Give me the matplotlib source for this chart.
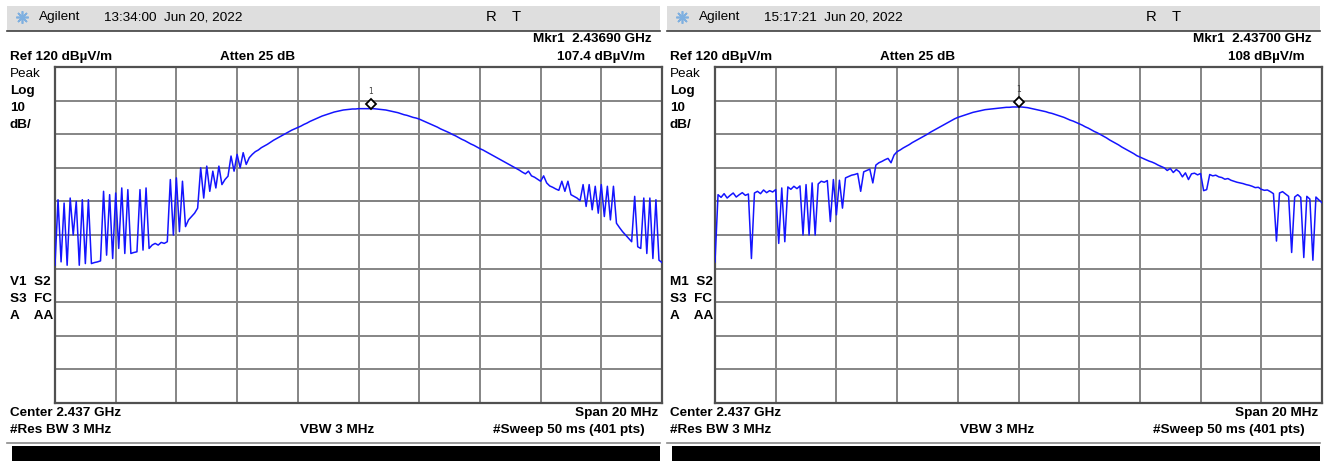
import numpy as np
import matplotlib
matplotlib.use("Agg")
import matplotlib.pyplot as plt
from matplotlib import font_manager
from matplotlib.patches import Rectangle
from matplotlib.transforms import offset_copy

W, H = 1325, 461

# sweep settings (both screenshots)
center_ghz = 2.437
span_mhz = 20
ref_level = 120
db_per_div = 10
n_pts = 201

# trace (dBuV/m), evenly spaced across the span
left_level = [
    61, 80.5, 62, 79.5, 61, 81, 70, 80, 61, 80.5,
    61.5, 80.5, 61.5, 61.8, 62, 62.3, 83, 64, 82, 63,
    82.5, 66, 84, 64.5, 83.5, 64.5, 64.8, 65, 83.5, 65.5,
    84, 66, 67, 67.5, 67, 67.8, 67.5, 68, 86.5, 70,
    87, 71, 86, 72.5, 74.5, 75.5, 76.5, 78, 90, 81,
    90.5, 83, 89, 84, 90.5, 85, 86.5, 87.5, 93.5, 89,
    94, 90, 94.5, 91, 93, 94, 94.8, 95.3, 96, 96.5,
    97, 97.6, 98.2, 98.7, 99.2, 99.7, 100.2, 100.7, 101.2, 101.6,
    102, 102.4, 102.9, 103.3, 103.8, 104.2, 104.6, 105, 105.4, 105.7,
    106, 106.3, 106.6, 106.8, 107, 107.2, 107.3, 107.4, 107.5, 107.5,
    107.6, 107.6, 107.6, 107.6, 107.6, 107.6, 107.5, 107.4, 107.3, 107.2,
    107.0, 106.8, 106.6, 106.4, 106.1, 105.8, 105.6, 105.3, 105.0, 104.8,
    104.5, 104.1, 103.7, 103.3, 102.9, 102.5, 102.1, 101.6, 101.2, 100.8,
    100.4, 99.9, 99.5, 99.0, 98.5, 98.1, 97.6, 97.1, 96.7, 96.2,
    95.7, 95.3, 94.8, 94.3, 93.8, 93.3, 92.8, 92.3, 91.8, 91.3,
    90.8, 90.3, 89.8, 89.3, 88.7, 88.2, 89, 87.6, 87.2, 86.6,
    86.0, 87.6, 85.5, 84.6, 84.2, 83.7, 83.3, 86, 83, 86,
    82, 81.5, 81, 80.2, 85, 78.5, 85, 77.5, 84.5, 76.5,
    85, 75.5, 84.5, 74.5, 84.5, 73.5, 72.2, 71, 70, 69,
    68, 81.5, 66.5, 66, 81, 64.5, 81, 63, 80.5, 62.5,
    61.8,
]

# trace
right_level = [
    62, 82, 81.2, 82.3, 81, 81.8, 82.5, 81.3, 82, 82.6,
    81.8, 82.2, 63, 82.5, 83, 82.3, 83.4, 82.6, 83.2, 82.8,
    83.5, 67.5, 84, 68, 84.3, 83.6, 84.5, 83.8, 84.6, 70,
    85, 70, 85.5, 70, 85.2, 86, 85.7, 86.2, 74, 86.5,
    76, 86.3, 78, 87, 87.4, 87.8, 88, 88.3, 83, 88.8,
    89.2, 89.6, 85.5, 90.8, 91.5, 91.9, 92.4, 92.8, 91.5, 93.8,
    94.8, 95.3, 95.9, 96.4, 96.9, 97.5, 98, 98.5, 99, 99.5,
    100, 100.6, 101.1, 101.6, 102.1, 102.6, 103.1, 103.6, 104.1, 104.6,
    105, 105.3, 105.6, 105.9, 106.2, 106.5, 106.7, 106.9, 107.1, 107.3,
    107.4, 107.5, 107.6, 107.7, 107.8, 107.9, 108, 108, 108.1, 108.1,
    108.1, 108.1, 108, 107.9, 107.7, 107.5, 107.3, 107.1, 106.9, 106.7,
    106.4, 106.2, 105.9, 105.6, 105.3, 105.0, 104.6, 104.2, 103.9, 103.5,
    103.1, 102.7, 102.2, 101.8, 101.3, 100.8, 100.4, 99.9, 99.4, 98.9,
    98.3, 97.8, 97.3, 96.8, 96.2, 95.7, 95.2, 94.7, 94.2, 93.6,
    93.2, 92.8, 92.4, 92, 91.7, 91.3, 90.8, 90.4, 90.0, 89.2,
    89.8, 88.6, 89.5, 88.8, 87.3, 88.5, 86.5, 88.2, 88.4, 87.9,
    88.3, 83.2, 83.5, 88, 87.6, 87.8, 87.3, 87.1, 86.6, 86.8,
    86.3, 86, 85.7, 85.5, 85.3, 85, 84.8, 84.5, 84.1, 84.2,
    83.6, 83.3, 83.4, 82.9, 82.3, 68.2, 82.5, 82.9, 82.2, 81.5,
    64.8, 81.3, 82, 81.2, 63.3, 81.5, 80.7, 62.5, 81.3, 80.4,
    79.6,
]

# marker 1 (position as drawn on screen, readout as printed)
mkr_freq = [2.4374, 2.4370]
mkr_level = [107.6, 108.1]
mkr_text = ["Mkr1  2.43690 GHz", "Mkr1  2.43700 GHz"]
mkr_read = ["107.4 dBµV/m", "108 dBµV/m"]
timestamps = ["13:34:00  Jun 20, 2022", "15:17:21  Jun 20, 2022"]
status = [["V1  S2", "S3  FC", "A    AA"], ["M1  S2", "S3  FC", "A    AA"]]

names = {f.name for f in font_manager.fontManager.ttflist}
if "Liberation Sans Narrow" in names:
    FONT = ["Liberation Sans Narrow", "DejaVu Sans"]
    FS = 11.5
else:
    FONT = ["Liberation Sans", "DejaVu Sans"]
    FS = 9.7
plt.rcParams["font.family"] = FONT

freq = center_ghz + np.linspace(-span_mhz / 2, span_mhz / 2, n_pts) / 1000.0
traces = [left_level, right_level]

fig = plt.figure(figsize=(W / 100, H / 100), dpi=100)
fig.patch.set_facecolor("white")

for k in range(2):
    dx = 660 * k
    x0, x1, y0, y1 = 55 + dx, 662 + dx, 67, 403
    ax = fig.add_axes([x0 / W, 1 - y1 / H, (x1 - x0) / W, (y1 - y0) / H])
    ax.set_xlim(freq[0], freq[-1])
    ax.set_ylim(ref_level - 10 * db_per_div, ref_level)
    ax.set_xticks(np.linspace(freq[0], freq[-1], 11))
    ax.set_yticks(np.arange(ref_level - 10 * db_per_div, ref_level + 1, db_per_div))
    ax.tick_params(length=0, labelbottom=False, labelleft=False)
    ax.grid(True, color="#858585", lw=1.4)
    ax.axhline(80, color="#454545", lw=1.4, zorder=1)
    for s in ax.spines.values():
        s.set_color("#505050")
        s.set_linewidth(1.6)
    ax.plot(freq, traces[k], color="#1414ff", lw=1.1, zorder=3)
    tr = offset_copy(ax.transData, fig=fig, y=5, units="dots")
    ax.plot([mkr_freq[k]], [mkr_level[k]], marker="D", ms=5.5, mfc="white",
            mec="black", mew=1.3, transform=tr, zorder=4, clip_on=False)
    tr2 = offset_copy(ax.transData, fig=fig, y=17, units="dots")
    ax.text(mkr_freq[k], mkr_level[k], "1", transform=tr2, ha="center",
            va="center", fontsize=5.5, color="#404040", family="DejaVu Sans")

ov = fig.add_axes([0, 0, 1, 1])
ov.set_xlim(0, W)
ov.set_ylim(H, 0)
ov.axis("off")


def put(x, y, s, ha="left", bold=True, size=None):
    ov.text(x, y, s, ha=ha, va="center", fontsize=size or FS,
            fontweight="bold" if bold else "normal", color="black")


for k in range(2):
    dx = 660 * k
    ov.add_patch(Rectangle((7 + dx, 6), 653, 25, facecolor="#dedede", edgecolor="none"))
    ov.plot([7 + dx, 660 + dx], [31.5, 31.5], color="#404040", lw=1.2)
    ov.plot([22 + dx], [17], marker=(8, 2, 0), ms=9, color="#7fb0e0", mew=1.2)
    put(39 + dx, 17, "Agilent", bold=False)
    put(104 + dx, 17, timestamps[k], bold=False)
    put(486 + dx, 17, "R", bold=False, size=FS + 1)
    put(512 + dx, 17, "T", bold=False, size=FS + 1)
    put(652 + dx, 39, mkr_text[k], ha="right")
    put(10 + dx, 57, "Ref 120 dBµV/m")
    put(220 + dx, 57, "Atten 25 dB")
    put(645 + dx, 57, mkr_read[k], ha="right")
    put(10 + dx, 74, "Peak", bold=False)
    put(10 + dx, 91, "Log")
    put(10 + dx, 108, "10")
    put(10 + dx, 125, "dB/")
    for j, s in enumerate(status[k]):
        put(10 + dx, 282 + 17 * j, s)
    put(10 + dx, 413, "Center 2.437 GHz")
    put(658 + dx, 413, "Span 20 MHz", ha="right")
    put(10 + dx, 430, "#Res BW 3 MHz")
    put(300 + dx, 430, "VBW 3 MHz")
    put(645 + dx, 430, "#Sweep 50 ms (401 pts)", ha="right")
    ov.plot([7 + dx, 660 + dx], [442.5, 442.5], color="#8a8a8a", lw=1.2)
    ov.add_patch(Rectangle((12 + dx, 446), 648, 15, facecolor="black", edgecolor="none"))

fig.savefig("out.png", dpi=100)
